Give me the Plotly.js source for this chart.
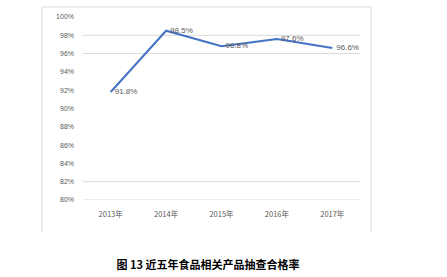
<!DOCTYPE html>
<html><head><meta charset="utf-8">
<script src="https://cdn.plot.ly/plotly-3.0.1.min.js"></script>
<style>html,body{margin:0;padding:0;background:#fff;}</style>
</head><body>
<div id="chart" style="width:447px;height:277px;"></div>
<script>
const years = ["2013年", "2014年", "2015年", "2016年", "2017年"];
const passRate = [91.8, 98.5, 96.8, 97.6, 96.6];
const passLabels = ["91.8%", "98.5%", "96.8%", "97.6%", "96.6%"];
const yTickVals = [80, 82, 84, 86, 88, 90, 92, 94, 96, 98, 100];
const yTickText = ["80%", "82%", "84%", "86%", "88%", "90%", "92%", "94%", "96%", "98%", "100%"];
const gridLevels = [80, 82, 96, 98];
const chartTitle = "图 13 近五年食品相关产品抽查合格率";

const shapes = gridLevels.map(v => ({
  type: "line", xref: "paper", yref: "y", x0: 0, x1: 1, y0: v, y1: v,
  line: {color: "#d9d9d9", width: 1}, layer: "below"
}));
const frame = {color: "#d9d9d9", width: 1};
shapes.push({type: "line", xref: "paper", yref: "paper", x0: -0.148, x1: 1.04, y0: 1.055, y1: 1.055, line: frame});
shapes.push({type: "line", xref: "paper", yref: "paper", x0: -0.148, x1: -0.148, y0: 1.055, y1: -0.175, line: frame});
shapes.push({type: "line", xref: "paper", yref: "paper", x0: 1.04, x1: 1.04, y0: 1.055, y1: -0.175, line: frame});

const trace = {
  x: years, y: passRate, type: "scatter", mode: "lines+text",
  text: passLabels.map(s => "\u2002" + s), textposition: "middle right",
  textfont: {family: "Liberation Sans, Arial, sans-serif", size: 8, color: "#595959"},
  line: {color: "#4472c4", width: 2}, cliponaxis: false, hoverinfo: "none"
};

const layout = {
  width: 447, height: 277,
  margin: {l: 83, r: 87, t: 17, b: 77},
  paper_bgcolor: "#fff", plot_bgcolor: "#fff",
  showlegend: false,
  font: {family: "Liberation Sans, Arial, sans-serif", size: 7, color: "#595959"},
  xaxis: {
    type: "category", range: [-0.5, 4.5], showgrid: false, zeroline: false,
    showline: false, ticks: "", ticklabelstandoff: 8,
    tickfont: {family: "Noto Sans CJK SC, sans-serif", size: 7.5, color: "#595959"}
  },
  yaxis: {
    range: [80, 100], tickvals: yTickVals, ticktext: yTickText,
    showgrid: false, zeroline: false, showline: false, ticks: "",
    ticklabelstandoff: 8,
    tickfont: {family: "Liberation Sans, Arial, sans-serif", size: 7, color: "#595959"}
  },
  shapes: shapes,
  title: {
    text: "<b>" + chartTitle + "</b>", xref: "paper", x: 0.451, xanchor: "center",
    yref: "container", y: 0.043, yanchor: "middle",
    font: {family: "Noto Sans CJK SC, sans-serif", size: 11, color: "#000"}
  }
};

Plotly.newPlot("chart", [trace], layout, {displayModeBar: false, staticPlot: true});
</script>
</body></html>
